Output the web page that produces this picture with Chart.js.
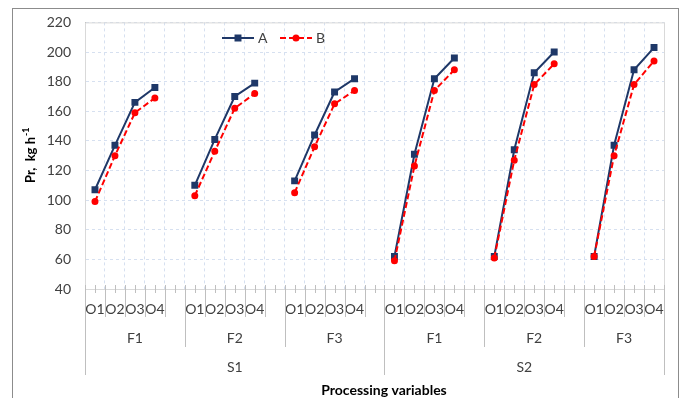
<!DOCTYPE html>
<html>
<head>
<meta charset="utf-8">
<script src="https://cdn.jsdelivr.net/npm/chart.js@4/dist/chart.umd.min.js"></script>
<style>
  html, body { margin: 0; padding: 0; background: #fff; }
  #frame { position: absolute; left: 12px; top: 8px; width: 665px; height: 420px; border: 1px solid #8c8c8c; }
  #wrap { position: absolute; left: 0; top: 0; width: 683px; height: 398px; }
</style>
</head>
<body>
<div id="frame"></div>
<div id="wrap"><canvas id="myChart" width="683" height="398"></canvas></div>
<script>
const oLabels = ['O1', 'O2', 'O3', 'O4'];
const fLabels = ['F1', 'F2', 'F3'];
const sLabels = ['S1', 'S2'];
const yTicks = [40, 60, 80, 100, 120, 140, 160, 180, 200, 220];

// one value per S / F / O combination, in order
const seriesA = [107, 137, 166, 176, 110, 141, 170, 179, 113, 144, 173, 182,
                 62, 131, 182, 196, 62, 134, 186, 200, 62, 137, 188, 203];
const seriesB = [99, 130, 159, 169, 103, 133, 162, 172, 105, 136, 165, 174,
                 59, 123, 174, 188, 61, 127, 178, 192, 62, 130, 178, 194];

const FONT = 'Lato';
const TXT = '#404040';

// categories with one empty slot between groups so lines break
var labels = [], dataA = [], dataB = [], groups = [], sGroups = [];
var n = 0;
sLabels.forEach(function (s, si) {
    var sStart = labels.length;
    fLabels.forEach(function (f, fi) {
        var start = labels.length;
        oLabels.forEach(function (o) {
            labels.push(o);
            dataA.push(seriesA[n]);
            dataB.push(seriesB[n]);
            n++;
        });
        var last = si === sLabels.length - 1 && fi === fLabels.length - 1;
        if (!last) {
            labels.push('');
            dataA.push(null);
            dataB.push(null);
        }
        groups.push({ name: f, start: start, end: labels.length });
    });
    sGroups.push({ name: s, start: sStart, end: labels.length });
});

const axisPlugin = {
    id: 'axisPlugin',
    beforeDatasetsDraw(chart) {
        const a = chart.chartArea, ctx = chart.ctx;
        ctx.save();
        ctx.strokeStyle = '#d9d9d9';
        ctx.lineWidth = 1;
        ctx.strokeRect(a.left + 0.5, a.top + 0.5, a.right - a.left, a.bottom - a.top);
        ctx.restore();
    },
    afterDraw(chart) {
        const ctx = chart.ctx, x = chart.scales.x, a = chart.chartArea;
        const N = labels.length;
        const step = x.getPixelForValue(1) - x.getPixelForValue(0);
        const bnd = function (k) { return x.getPixelForValue(k) - step / 2; };
        const ax = a.bottom;
        const sBreaks = sGroups.map(function (g) { return g.start; });
        ctx.save();
        ctx.strokeStyle = '#bfbfbf';
        ctx.lineWidth = 1;
        // small ticks across the axis
        for (let k = 0; k <= N; k++) {
            const px = Math.round(bnd(k)) + 0.5;
            ctx.beginPath(); ctx.moveTo(px, ax - 4); ctx.lineTo(px, ax + 4); ctx.stroke();
            if (k < N) {
                const cx = Math.round(x.getPixelForValue(k)) + 0.5;
                ctx.beginPath(); ctx.moveTo(cx, ax - 4); ctx.lineTo(cx, ax + 4); ctx.stroke();
            }
        }
        // separators of the category levels
        for (let k = 0; k <= N; k++) {
            let bottom;
            if (k === 0 || k === N || sBreaks.indexOf(k) >= 0) bottom = ax + 86;
            else if (labels[k - 1] === '') bottom = ax + 58;
            else bottom = ax + 28;
            const px = Math.round(bnd(k)) + 0.5;
            ctx.beginPath(); ctx.moveTo(px, ax); ctx.lineTo(px, bottom); ctx.stroke();
        }
        ctx.fillStyle = TXT;
        ctx.font = '14px ' + FONT;
        ctx.textAlign = 'center';
        ctx.textBaseline = 'middle';
        groups.forEach(function (g) {
            ctx.fillText(g.name, (bnd(g.start) + bnd(g.end)) / 2, ax + 49);
        });
        sGroups.forEach(function (g) {
            ctx.fillText(g.name, (bnd(g.start) + bnd(g.end)) / 2, ax + 78);
        });
        // axis titles
        ctx.fillStyle = '#000';
        ctx.font = 'bold 14px ' + FONT;
        ctx.fillText('Processing variables', 384, 390);
        ctx.translate(31, (a.top + a.bottom) / 2);
        ctx.rotate(-Math.PI / 2);
        const main = 'Pr,  kg h';
        ctx.font = 'bold 13px ' + FONT;
        const w1 = ctx.measureText(main).width;
        ctx.font = 'bold 9px ' + FONT;
        const w2 = ctx.measureText('-1').width;
        ctx.textAlign = 'left';
        ctx.font = 'bold 13px ' + FONT;
        ctx.fillText(main, -(w1 + w2) / 2, 0);
        ctx.font = 'bold 9px ' + FONT;
        ctx.fillText('-1', -(w1 + w2) / 2 + w1 + 1, -5);
        ctx.restore();

        // legend
        const lx = [222, 280], ly = 38;
        chart.data.datasets.forEach(function (ds, i) {
            ctx.save();
            ctx.strokeStyle = ds.borderColor;
            ctx.fillStyle = ds.pointBackgroundColor;
            ctx.lineWidth = ds.borderWidth;
            ctx.setLineDash(ds.borderDash || []);
            ctx.beginPath(); ctx.moveTo(lx[i], ly); ctx.lineTo(lx[i] + 32, ly); ctx.stroke();
            ctx.setLineDash([]);
            Chart.helpers.drawPoint(ctx, { pointStyle: ds.pointStyle, radius: ds.pointRadius, borderWidth: 1 }, lx[i] + 16, ly);
            ctx.fillStyle = TXT;
            ctx.font = '14px ' + FONT;
            ctx.textAlign = 'left';
            ctx.textBaseline = 'middle';
            ctx.fillText(ds.label, lx[i] + 36, ly);
            ctx.restore();
        });
    }
};

new Chart(document.getElementById('myChart'), {
    type: 'line',
    data: {
        labels: labels,
        datasets: [{
            label: 'A',
            data: dataA,
            order: 1,
            borderColor: '#1f3868',
            backgroundColor: '#1f3868',
            pointBackgroundColor: '#1f3868',
            pointBorderColor: '#1f3868',
            borderWidth: 2,
            pointStyle: 'rect',
            pointRadius: 3.5,
            spanGaps: false
        }, {
            label: 'B',
            data: dataB,
            order: 0,
            borderColor: '#ff0000',
            backgroundColor: '#ff0000',
            pointBackgroundColor: '#ff0000',
            pointBorderColor: '#ff0000',
            borderWidth: 2,
            borderDash: [6, 3],
            pointStyle: 'circle',
            pointRadius: 2.5,
            spanGaps: false
        }]
    },
    options: {
        responsive: false,
        animation: false,
        layout: { padding: { left: 0, right: 19, top: 20, bottom: 0 } },
        plugins: {
            legend: { display: false },
            tooltip: { enabled: false }
        },
        scales: {
            x: {
                offset: true,
                afterFit: function (s) { s.height = 109; },
                grid: {
                    offset: true,
                    color: '#d6e0f0',
                    borderDash: [3, 3],
                    drawTicks: false
                },
                border: { color: '#a6a6a6', dash: [3, 3] },
                ticks: {
                    autoSkip: false,
                    maxRotation: 0,
                    padding: 12,
                    color: TXT,
                    font: { family: FONT, size: 14 }
                }
            },
            y: {
                min: yTicks[0],
                max: yTicks[yTicks.length - 1],
                afterFit: function (s) { s.width = 85; },
                afterBuildTicks: function (s) { s.ticks = yTicks.map(function (v) { return { value: v }; }); },
                grid: {
                    color: '#d6e0f0',
                    drawTicks: false
                },
                border: { color: '#a6a6a6', dash: [3, 3] },
                ticks: {
                    padding: 14,
                    color: TXT,
                    font: { family: FONT, size: 14 }
                }
            }
        }
    },
    plugins: [axisPlugin]
});
</script>
</body>
</html>
